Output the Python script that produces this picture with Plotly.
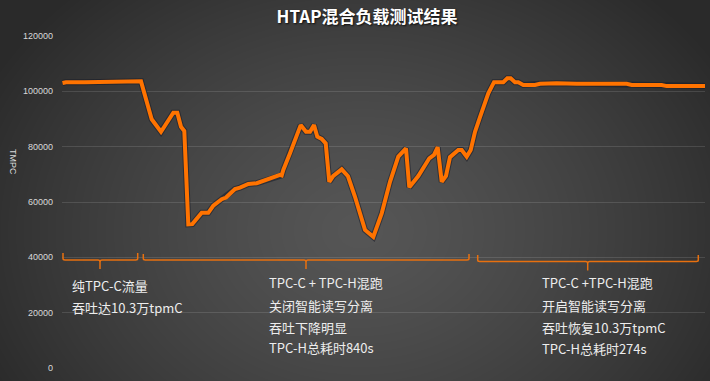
import base64, struct, zlib
import numpy as np
import plotly.graph_objects as go

# ---------------- data ----------------
# sample position along the test timeline (arbitrary units, no x axis shown)
sample_pos = [0.5, 4, 23, 38, 43, 48, 53, 58, 63, 79, 89.7, 99, 111.3, 115.3, 119, 122.3,
              126.3, 130.3, 139.7, 146.3, 151.3, 159.7, 164, 173, 178, 186.3, 194.7, 209.7,
              218, 219.7, 221.3, 228, 238.7, 244, 248, 252, 255.3, 259.7, 263.7, 267.3,
              271.3, 279.7, 286, 293, 303, 311.3, 319.7, 328, 336.3, 344, 347.3, 356.3,
              367.3, 372, 375.7, 379.7, 384, 388, 396.3, 399.7, 404.7, 408.7, 413, 418,
              426.3, 432, 441.3, 445.3, 448.7, 453, 456.3, 461.3, 473, 478, 494.7, 514.7,
              564.7, 569.7, 599.7, 604.7, 643]
tpmc = [103000, 103300, 103300, 103300, 103600, 103600, 103300, 103300, 103600, 103600,
        89900, 85400, 92300, 92300, 87200, 85700, 51900, 52000, 56100, 56100, 58700,
        61000, 61600, 64700, 65200, 66500, 66800, 68600, 69800, 69600, 71600, 77600,
        87800, 85400, 85400, 87800, 83600, 82800, 81200, 67300, 69400, 71800, 69300,
        61900, 49900, 47400, 55900, 67300, 76400, 79400, 65300, 69400, 75800, 77000,
        79800, 67300, 69400, 76200, 78800, 78800, 76400, 78800, 85400, 90700, 99300,
        103300, 103300, 104700, 104700, 103300, 103300, 102300, 102300, 102700, 102900,
        102700, 102700, 102300, 102300, 101900, 101900]

y_ticks = [0, 20000, 40000, 60000, 80000, 100000, 120000]

title_text = "HTAP混合负载测试结果"
y_title = "TMPC"
phase_texts = [
    ["纯TPC-C流量", "吞吐达10.3万tpmC"],
    ["TPC-C + TPC-H混跑", "关闭智能读写分离", "吞吐下降明显", "TPC-H总耗时840s"],
    ["TPC-C +TPC-H混跑", "开启智能读写分离", "吞吐恢复10.3万tpmC", "TPC-H总耗时274s"],
]

# ---------------- layout geometry ----------------
W, H = 710, 381
L, R, T, B = 62, 5, 36, 13
PW, PH = W - L - R, H - T - B


def fx(px):
    return (px - L) / PW


def fy(py):
    return (H - B - py) / PH


# ---------------- background radial gradient (PNG) ----------------
def make_png(arr):
    h, w, _ = arr.shape
    raw = b"".join(b"\x00" + arr[i].tobytes() for i in range(h))

    def chunk(t, d):
        return struct.pack(">I", len(d)) + t + d + struct.pack(">I", zlib.crc32(t + d) & 0xFFFFFFFF)

    return (b"\x89PNG\r\n\x1a\n" + chunk(b"IHDR", struct.pack(">IIBBBBB", w, h, 8, 2, 0, 0, 0))
            + chunk(b"IDAT", zlib.compress(raw, 9)) + chunk(b"IEND", b""))


yy, xx = np.mgrid[0:H, 0:W]
d = np.sqrt(((xx - 360) / 420.0) ** 2 + ((yy - 230) / 330.0) ** 2)
d = np.clip(d, 0, 1) ** 1.3
c_center, c_edge = 86, 42
val = (c_center + (c_edge - c_center) * d).astype(np.uint8)
img = np.stack([val, val, val], axis=-1)
bg_uri = "data:image/png;base64," + base64.b64encode(make_png(img)).decode()

# ---------------- figure ----------------
fig = go.Figure()
fig.add_trace(go.Scatter(
    x=sample_pos, y=tpmc, mode="lines",
    line=dict(color="rgba(20,25,40,0.55)", width=6),
    hoverinfo="skip", showlegend=False, cliponaxis=False,
))
fig.add_trace(go.Scatter(
    x=sample_pos, y=tpmc, mode="lines",
    line=dict(color="#FF7300", width=4),
    showlegend=False, cliponaxis=False,
))

brace_color = "#E8700F"
braces = [  # left, right, center, horizontal y, top y, bottom y (pixels)
    (63, 137.7, 100, 260, 253, 269),
    (143.3, 469, 306, 260, 254, 269),
    (477.7, 698.3, 587.7, 261.5, 255, 270.5),
]
shapes = []
for x0, x1, xc, yh, yt, yb in braces:
    path = (f"M {fx(x0)},{fy(yt)} L {fx(x0)},{fy(yh-1.5)} Q {fx(x0)},{fy(yh)} {fx(x0+2)},{fy(yh)} "
            f"L {fx(xc-2)},{fy(yh)} Q {fx(xc)},{fy(yh)} {fx(xc)},{fy(yh+2)} L {fx(xc)},{fy(yb)} "
            f"M {fx(xc)},{fy(yh+2)} Q {fx(xc)},{fy(yh)} {fx(xc+2)},{fy(yh)} "
            f"L {fx(x1-2)},{fy(yh)} Q {fx(x1)},{fy(yh)} {fx(x1)},{fy(yh-1.5)} L {fx(x1)},{fy(yt)}")
    shapes.append(dict(type="path", xref="paper", yref="paper", path=path,
                       line=dict(color=brace_color, width=1.5), layer="above"))

text_pos = [  # left x, line centre ys (pixels)
    (70, [285, 307.5]),
    (267, [282, 305, 327.5, 347.5]),
    (539.5, [282.5, 305.5, 327.5, 348.5]),
]
annotations = []
for (xl, ys), lines in zip(text_pos, phase_texts):
    for yv, txt in zip(ys, lines):
        annotations.append(dict(
            text=txt, xref="paper", yref="paper", x=fx(xl), y=fy(yv),
            xanchor="left", yanchor="middle", showarrow=False,
            font=dict(family="Noto Sans CJK SC", size=13, color="#EDEDED"),
        ))
annotations.append(dict(
    text=y_title, xref="paper", yref="paper", x=fx(13), y=fy(162),
    xanchor="center", yanchor="middle", showarrow=False, textangle=90,
    font=dict(family="Liberation Sans", size=9, color="#D9D9D9"),
))

fig.update_layout(
    width=W, height=H,
    margin=dict(l=L, r=R, t=T, b=B),
    paper_bgcolor="#3c3c3c",
    plot_bgcolor="rgba(0,0,0,0)",
    images=[dict(source=bg_uri, xref="paper", yref="paper",
                 x=-L / PW, y=1 + T / PH, sizex=W / PW, sizey=H / PH,
                 xanchor="left", yanchor="top", sizing="stretch", layer="below")],
    title=dict(text=f"<b>{title_text}</b>", x=fx(367), xref="paper", xanchor="center",
               y=1 - 17 / H, yref="container", yanchor="middle",
               font=dict(family="Noto Sans CJK SC", size=17, color="#FFFFFF",
                         shadow="1px 1px 2px rgba(0,0,0,0.8)")),
    xaxis=dict(range=[0, 643], visible=False, showgrid=False, zeroline=False),
    yaxis=dict(range=[0, 120000], tickvals=y_ticks, ticktext=[str(v) for v in y_ticks],
               showgrid=True, gridcolor="rgba(255,255,255,0.12)", gridwidth=1,
               zeroline=False, showline=False, ticks="", ticklabelstandoff=8,
               tickfont=dict(family="Liberation Sans", size=9, color="#D9D9D9")),
    shapes=shapes,
    annotations=annotations,
    hovermode=False,
)

fig.write_html("out.html", config={"displayModeBar": False},
               post_script="document.body.style.margin='0';document.body.style.overflow='hidden';")
